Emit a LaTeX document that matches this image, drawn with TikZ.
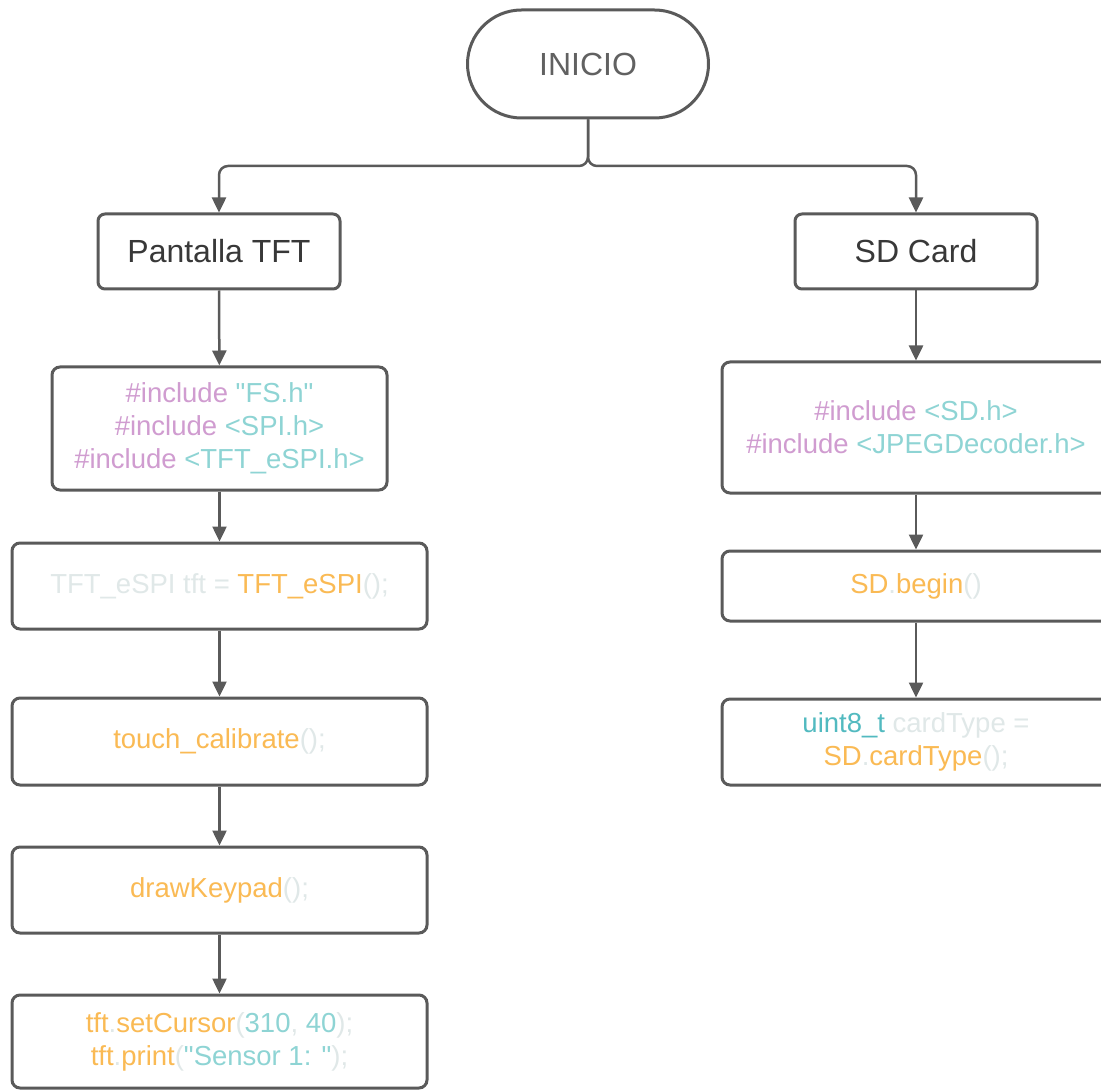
\documentclass[tikz,border=0pt]{standalone}
\usepackage{fontspec}
\setmainfont{Liberation Sans}
\usetikzlibrary{arrows.meta}
\definecolor{edgec}{RGB}{90,90,90}
\definecolor{incc}{RGB}{208,156,208}
\definecolor{strc}{RGB}{142,212,212}
\definecolor{fnc}{RGB}{250,186,84}
\definecolor{punc}{RGB}{224,232,232}
\definecolor{typec}{RGB}{82,186,192}
\newcommand{\inc}[1]{\textcolor{incc}{#1}}
\newcommand{\str}[1]{\textcolor{strc}{#1}}
\newcommand{\fn}[1]{\textcolor{fnc}{#1}}
\newcommand{\pun}[1]{\textcolor{punc}{#1}}
\newcommand{\typ}[1]{\textcolor{typec}{#1}}
% straight double quote, taken as a glyph so no text mapping curls it
\newcommand{\dq}{\XeTeXglyph\XeTeXglyphindex "quotedbl"\relax}
\tikzset{
  term/.style={draw=edgec, line width=3pt, fill=white, rounded corners=54pt,
    minimum width=241pt, minimum height=108pt, inner sep=0pt,
    text=black!62, font=\fontsize{32}{38}\selectfont},
  headbox/.style={draw=edgec, line width=3pt, fill=white, rounded corners=7pt,
    minimum width=242pt, minimum height=75pt, inner sep=0pt,
    text=black!78, font=\fontsize{32}{38}\selectfont},
  codebox/.style={draw=edgec, line width=3pt, fill=white, rounded corners=8pt,
    inner sep=0pt, align=center, font=\fontsize{27.5}{33}\selectfont},
  arr/.style={draw=edgec, line width=2.5pt, -{Triangle[length=15pt,width=14pt]}},
  link/.style={arr, rounded corners=9pt}
}
\begin{document}
\begin{tikzpicture}[x=1pt,y=-1pt]
\useasboundingbox (0,0) rectangle (1101,1091);

% start terminal and split point
\node[term] (start) at (588,64) {INICIO};
\coordinate (split) at (588,166);

% column heads
\node[headbox] (tft) at (219,251.5) {Pantalla TFT};
\node[headbox] (sd) at (916,251.5) {SD Card};

% left column: display setup
\node[codebox, minimum width=335pt, minimum height=123pt] (tftinc) at (219.5,428.5)
  {\inc{\#include} \str{\dq FS.h\dq}\\ \inc{\#include} \str{<SPI.h>}\\ \inc{\#include} \str{<TFT\_eSPI.h>}};
\node[codebox, minimum width=415pt, minimum height=86pt] (tftobj) at (219.5,586)
  {\pun{TFT\_eSPI tft =} \fn{TFT\_eSPI}\pun{();}};
\node[codebox, minimum width=415pt, minimum height=87pt] (calib) at (219.5,741.5)
  {\fn{touch\_calibrate}\pun{();}};
\node[codebox, minimum width=415pt, minimum height=86pt] (keypad) at (219.5,890)
  {\fn{drawKeypad}\pun{();}};
\node[codebox, minimum width=415pt, minimum height=93pt] (print) at (219.5,1041.5)
  {\fn{tft}\pun{.}\fn{setCursor}\pun{(}\str{310}\pun{,} \str{40}\pun{);}\\
   \fn{tft}\pun{.}\fn{print}\pun{(}\str{\dq Sensor 1: \dq}\pun{);}};

% right column: SD card setup
\node[codebox, minimum width=388pt, minimum height=131pt] (sdinc) at (916,427.5)
  {\inc{\#include} \str{<SD.h>}\\ \inc{\#include} \str{<JPEGDecoder.h>}};
\node[codebox, minimum width=388pt, minimum height=70pt] (sdbegin) at (916,586)
  {\fn{SD}\pun{.}\fn{begin}\pun{()}};
\node[codebox, minimum width=388pt, minimum height=86pt] (sdtype) at (916,742)
  {\typ{uint8\_t} \pun{cardType =}\\ \fn{SD}\pun{.}\fn{cardType}\pun{();}};

% connectors
\draw[link] (start.south) -- (split) -| (tft.north);
\draw[link] (start.south) -- (split) -| (sd.north);
\draw[arr] (tft) -- (tftinc);
\draw[arr] (tftinc) -- (tftobj);
\draw[arr] (tftobj) -- (calib);
\draw[arr] (calib) -- (keypad);
\draw[arr] (keypad) -- (print);
\draw[arr] (sd) -- (sdinc);
\draw[arr] (sdinc) -- (sdbegin);
\draw[arr] (sdbegin) -- (sdtype);
\end{tikzpicture}
\end{document}
